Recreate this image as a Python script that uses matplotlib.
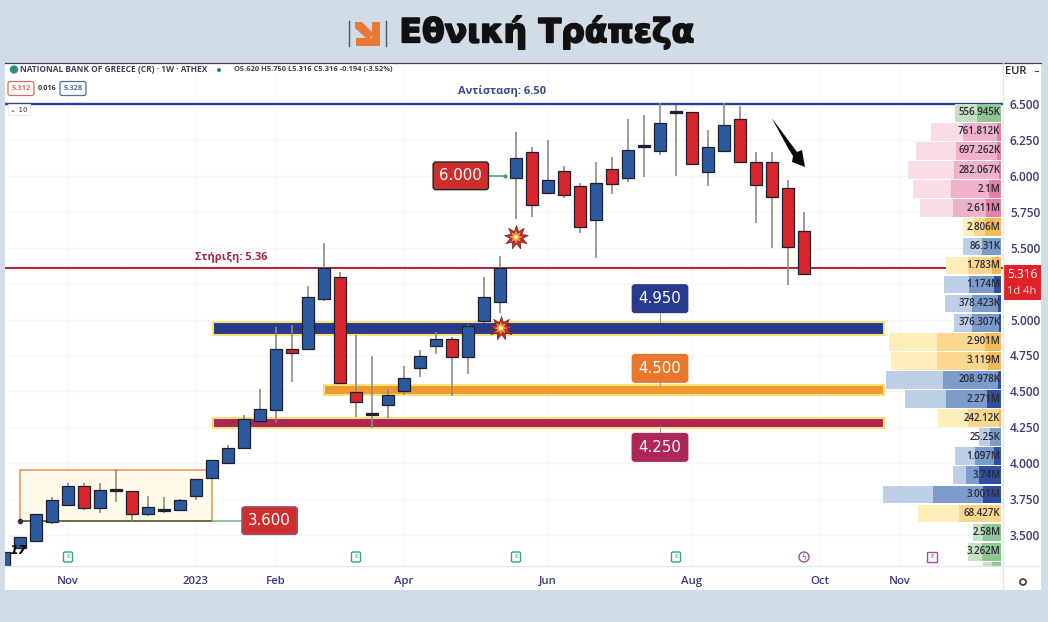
import matplotlib
matplotlib.use("Agg")
import matplotlib.pyplot as plt
import matplotlib.patheffects as pe
from matplotlib.patches import Rectangle, FancyBboxPatch, Polygon, Circle

W, H = 1048, 622
BG = "#d1dce9"
BLUE = "#2c5a9f"; RED = "#d9252b"; EDGE = "#1c2030"; WICK = "#8d8d7d"
TXT = "#3a3b78"
FONT = "Open Sans"

# weekly candles, index 0 = first visible week
opens  = [3.285,3.410,3.458,3.591,3.709,3.841,3.688,3.814,3.807,3.646,3.675,3.674,3.772,3.897,4.001,4.106,4.294,4.370,4.795,4.795,5.143,5.296,4.495,4.342,4.405,4.502,4.663,4.816,4.864,4.739,4.990,5.122,5.985,6.166,5.881,6.034,5.929,5.693,6.048,5.985,6.208,6.173,6.444,6.444,6.027,6.173,6.396,6.096,6.096,5.915,5.616]
closes = [3.382,3.486,3.646,3.741,3.841,3.688,3.814,3.807,3.646,3.695,3.668,3.744,3.890,4.022,4.106,4.308,4.377,4.795,4.767,5.157,5.359,4.558,4.426,4.338,4.475,4.593,4.746,4.864,4.739,4.955,5.157,5.359,6.124,5.797,5.971,5.867,5.644,5.950,5.943,6.180,6.200,6.368,6.436,6.082,6.201,6.354,6.096,5.936,5.853,5.505,5.317]
highs  = [3.382,3.486,3.646,3.762,3.862,3.862,3.862,3.953,3.807,3.772,3.765,3.751,3.890,4.022,4.127,4.335,4.516,4.948,4.962,5.233,5.533,5.331,4.892,4.746,4.516,4.676,4.788,4.913,4.878,4.962,5.296,5.442,6.305,6.201,6.249,6.068,5.950,6.096,6.131,6.396,6.423,6.507,6.493,6.444,6.319,6.507,6.486,6.166,6.166,5.971,5.748]
lows   = [3.285,3.410,3.458,3.577,3.709,3.674,3.653,3.730,3.598,3.632,3.653,3.674,3.744,3.897,4.001,4.106,4.287,4.280,4.565,4.795,5.129,4.558,4.322,4.245,4.315,4.475,4.600,4.760,4.468,4.621,4.976,5.045,5.700,5.713,5.874,5.846,5.602,5.428,5.874,5.957,5.992,6.145,5.999,6.082,5.929,6.173,6.096,5.672,5.498,5.240,5.317]

price_ticks = [3.5,3.75,4.0,4.25,4.5,4.75,5.0,5.25,5.5,5.75,6.0,6.25,6.5]
hidden_tick = 5.25
month_labels = ["Nov","2023","Feb","Apr","Jun","Aug","Oct","Nov"]
month_pos = [4,11.94,17,25,34,43,51,56]

resistance = 6.50; support = 5.36; last_price = 5.316
zone_tops = [4.98,4.545,4.315]
zone_bots = [4.89,4.475,4.245]
zone_starts = [13.05,20.0,13.05]
zone_colors = ["#283a8e","#ef9a30","#ae2557"]
zone_names = ["4.950","4.500","4.250"]
zone_label_y = [5.145,4.66,4.11]

# volume profile rows, top row first
vp_labels = ["556.945K","761.812K","697.262K","282.067K","2.1M","2.611M","2.806M","86.31K","1.783M","1.174M","378.423K","376.307K","2.901M","3.119M","208.978K","2.271M","242.12K","25.25K","1.097M","3.74M","3.001M","68.427K","2.58M","3.262M"]
vp_total = [46,70,85,93,88,81,38,38,55,57,56,47,112,110,115,96,63,22,46,48,118,83,28,33]
vp_mid   = [24,38,45,47,50,48,27,19,33,32,29,29,64,64,58,55,33,11,26,35,68,42,18,19]
vp_dark  = [0,4,4,2,12,15,16,0,9,7,3,2,16,13,3,14,2,0,7,22,18,0,0,0]
vp_kind  = ["g","p","p","p","p","p","y","b","y","b","b","b","y","y","b","b","y","b","b","b","b","y","g","g"]
vp_cols = {"g":("#c5e0c2","#8fc794","#4fa35f"),"p":("#f9dce6","#f0b1ca","#e57fa8"),
           "y":("#fdeeba","#f9d78e","#f2bb55"),"b":("#bdcfe6","#7b9bca","#2f4f9c")}

PX = 143.67

fig = plt.figure(figsize=(W/100, H/100), dpi=100, facecolor=BG)
fig.patches.append(Rectangle((5/W, 1-590/H), 1036/W, 527/H, transform=fig.transFigure, fc="white", ec="none", zorder=-5))

def pos(x0, y0, x1, y1): return [x0/W, 1-y1/H, (x1-x0)/W, (y1-y0)/H]

ax = fig.add_axes(pos(5,63,1003,566), zorder=1)
ax.set_xlim((5-4)/16, (1003-4)/16)
ax.set_ylim(6.5-(566-104)/PX, 6.5+(104-63)/PX)
ax.set_facecolor("white")
for s in ax.spines.values(): s.set_visible(False)
ax.yaxis.tick_right()
ax.set_yticks(price_ticks, ["" if p == hidden_tick else f"{p:.3f}" for p in price_ticks],
              color=TXT, fontsize=8.6, fontweight="semibold", family=FONT)
ax.set_xticks(month_pos, month_labels, color=TXT, fontsize=8.2, fontweight="semibold", family=FONT)
ax.tick_params(axis="both", length=0)
ax.tick_params(axis="x", pad=7)
ax.tick_params(axis="y", pad=5)
ax.grid(True, color="#faf7f3", lw=0.9)
ax.set_axisbelow(True)

# consolidation box
ax.add_patch(Rectangle((1,3.60),12,0.355,fc="#fffbe8",ec="#e5a071",lw=1.3,zorder=1))
ax.plot([1,13],[3.60,3.60],color="#5e6b3c",lw=1.3,zorder=1.5)
ax.plot([13,15],[3.60,3.60],color="#84b58d",lw=1.2,zorder=1.5)
ax.plot([1],[3.60],marker="o",ms=3,color="#333",zorder=1.5)

# zones
for t,b,s,c in zip(zone_tops,zone_bots,zone_starts,zone_colors):
    ax.add_patch(Rectangle((s,b),55.0-s,t-b,fc=c,ec="#f7e27a",lw=1.5,zorder=1.6))

# support/resistance
ax.axhline(resistance,color="#2f3f95",lw=1.7,zorder=1.8)
ax.axhline(support,color="#b3283f",lw=1.5,zorder=1.8)
ax.axhline(last_price+0.03,color="#e8d8c8",lw=0.8,ls=":",zorder=1.7)
ax.text(31.1,6.59,"Αντίσταση: 6.50",color="#3a4a8c",fontsize=8,fontweight="bold",family=FONT,ha="center",va="center",zorder=4)
ax.text(14.2,5.43,"Στήριξη: 5.36",color="#a8263f",fontsize=8,fontweight="bold",family=FONT,ha="center",va="center",zorder=4)

# candles
xs = list(range(len(opens)))
ax.vlines(xs,lows,highs,color=WICK,lw=1.2,zorder=3)
for i,(o,c) in enumerate(zip(opens,closes)):
    doji = abs(o-c) < 0.012
    col = EDGE if doji else (BLUE if c>o else RED)
    ax.bar(i,max(abs(c-o),0.012),bottom=min(o,c),width=0.76,color=col,edgecolor=EDGE,lw=0.9,zorder=3.2)

# value labels
def tag(x,y,s,fc,ec=None,fs=10.8):
    ax.text(x,y,s,color="white",fontsize=fs,ha="center",va="center",zorder=6,
            bbox=dict(boxstyle="round,pad=0.42,rounding_size=0.18",fc=fc,ec=ec or fc,lw=1))
tag(16.6,3.60,"3.600","#cf2f2c",ec="#8d5a7c")
tag(28.55,6.0,"6.000","#cf2f2c",ec="#222")
ax.plot([29.95,31.3],[6.0,6.0],color="#3aa363",lw=1.1,marker="o",ms=2,markevery=[1],zorder=5)
for k,(n,y,c) in enumerate(zip(zone_names,zone_label_y,zone_colors)):
    tag(41,y,n,{"#ef9a30":"#e8772d"}.get(c,c))
    edge = zone_tops[k] if y>zone_tops[k] else zone_bots[k]
    ax.plot([41,41],[y,edge],color="#999",lw=0.7,zorder=2)

# bursts
for x,y in [(32.0,5.574),(31.05,4.94)]:
    ax.scatter([x],[y],marker=(9,1,0),s=300,fc="#b8332a",ec="#7a1f1f",lw=0.5,zorder=7)
    ax.scatter([x],[y],marker=(8,1,0),s=90,fc="#f2a13a",ec="none",zorder=8)
    ax.scatter([x],[y],marker="o",s=8,fc="#fff2c0",ec="none",zorder=9)

# volume profile axis
vp = fig.add_axes(pos(881,63,1001,566), zorder=1.5)
vp.patch.set_alpha(0)
vp.set_xlim(120,0); vp.set_ylim(ax.get_ylim()); vp.axis("off")
row = 19.08/PX
for i,lab in enumerate(vp_labels):
    yc = 6.505 - row*(i+0.5)
    a,b,c = vp_cols[vp_kind[i]]
    h = row*0.93
    vp.barh(yc,vp_total[i],height=h,color=a,lw=0)
    vp.barh(yc,vp_mid[i],height=h,color=b,lw=0)
    vp.barh(yc,vp_dark[i],height=h,color=c,lw=0)
    vp.text(0.5,yc,lab,ha="right",va="center",fontsize=7,color="#2a2a35",family=FONT,fontweight="semibold")
yc = 6.505 - row*24.18
vp.barh(yc,18,height=row*0.3,color="#c5e0c2",lw=0)
vp.barh(yc,9,height=row*0.3,color="#8fc794",lw=0)

# chrome, in pixel coordinates
cr = fig.add_axes([0,0,1,1], zorder=3)
cr.set_xlim(0,W); cr.set_ylim(H,0); cr.axis("off"); cr.patch.set_alpha(0)

# separators
cr.plot([5,1041],[63,63],color="#444",lw=0.9)
cr.plot([1003,1003],[63,590],color="#e6e6ea",lw=0.9)
cr.plot([5,1041],[566,566],color="#e6e6ea",lw=0.9)

# title
cr.text(546.5,32,"Εθνική Τράπεζα",ha="center",va="center",fontsize=23.8,fontweight="bold",color="#111",
        family="DejaVu Sans",path_effects=[pe.withStroke(linewidth=1.3,foreground="#111")])
cr.plot([349,349],[21,46],color="#555",lw=1); cr.plot([386,386],[21,46],color="#555",lw=1)
cr.add_patch(Polygon([(372,22),(380,22),(380,46),(356,46),(356,38),(372,38)],fc="#e87a35",ec="none"))
cr.add_patch(Polygon([(355,22),(362,22),(374,34),(368,40),(355,28)],fc="#e87a35",ec="none"))

# header
cr.add_patch(Circle((14,69.5),4.2,fc="#2f8f86",ec="none"))
cr.text(20,70,"NATIONAL BANK OF GREECE (CR) · 1W · ATHEX",fontsize=6,fontweight="bold",family=FONT,color="#3a4256",va="center")
cr.add_patch(Circle((219,70),2,fc="#0d8a5a",ec="none"))
cr.text(234,70,"O5.620 H5.750 L5.316 C5.316 -0.194 (-3.52%)",fontsize=5.4,color="#3a4256",fontweight="bold",family=FONT,va="center")
for x0,w,t,c in [(8,26,"5.312","#d9705f"),(60,26,"5.328","#5a6aa8")]:
    cr.add_patch(FancyBboxPatch((x0,81.5),w,14,boxstyle="round,pad=0,rounding_size=2",fc="white",ec=c,lw=0.9))
    cr.text(x0+w/2,88.5,t,fontsize=5.4,color=c,ha="center",va="center",fontweight="bold",family=FONT)
cr.text(47,88.5,"0.016",fontsize=5.2,color="#333",ha="center",va="center",fontweight="bold",family=FONT)
cr.add_patch(Rectangle((8,104),22,11,fc="white",ec="#e8e8e8",lw=0.6))
cr.text(19,109.5,"⌄ 10",fontsize=5.2,color="#333",ha="center",va="center")

# right-scale extras
cr.text(1005.5,71,"EUR",fontsize=8,color="#222",va="center",family=FONT,fontweight="semibold")
cr.plot([1035,1038],[71,71],color="#444",lw=0.8)
cr.add_patch(Rectangle((1003,265),38,35,fc="#e1222a",ec="none"))
cr.text(1022,275,"5.316",fontsize=8.6,color="#fff",ha="center",va="center",family=FONT)
cr.text(1022,291,"1d 4h",fontsize=8,color="#fbd5d5",ha="center",va="center",family=FONT)
cr.add_patch(Circle((1023,582),3,fc="white",ec="#444",lw=1.3))

# arrow and logo
cr.add_patch(Polygon([(771.7,118),(797,152),(802,150),(805,167),(792,162),(793,156),(788,148)],fc="#0a0a0a",ec="none",zorder=9))
cr.text(18,550.5,"17",fontsize=9,fontweight="bold",color="#000",ha="center",va="center",style="italic")

# earnings markers
for x in [68,356,516,676]:
    cr.add_patch(FancyBboxPatch((x-4.5,552),9,10,boxstyle="round,pad=0,rounding_size=1.5",fc="white",ec="#3aa37c",lw=1))
    cr.text(x,557,"E",fontsize=4.6,color="#3aa37c",ha="center",va="center")
cr.add_patch(Circle((804,557),5,fc="white",ec="#a050a8",lw=1))
cr.text(804,557,"ϟ",fontsize=5.5,color="#a050a8",ha="center",va="center")
cr.add_patch(Rectangle((927,552),10,10,fc="white",ec="#a050a8",lw=1))
cr.text(932,557,"E",fontsize=4.6,color="#a050a8",ha="center",va="center")

fig.savefig("out.png",dpi=100,facecolor=BG)
